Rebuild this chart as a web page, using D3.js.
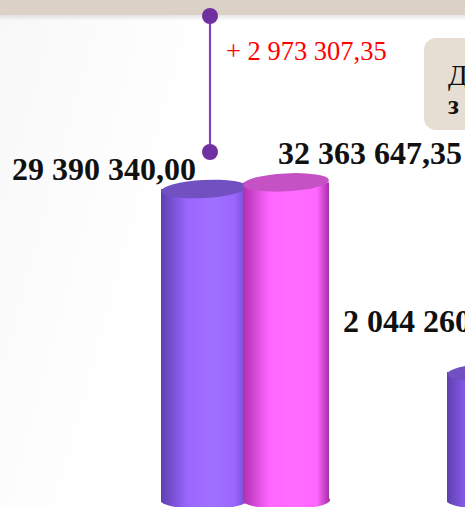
<!DOCTYPE html>
<html>
<head>
<meta charset="utf-8">
<script src="https://cdn.jsdelivr.net/npm/d3@7"></script>
<style>
  html, body { margin: 0; padding: 0; overflow: hidden; background: #fff; }
  svg { display: block; }
</style>
</head>
<body>
<svg id="chart" width="465" height="507"></svg>
<script>
// values
const groups = ["г1", "г2"];
const series = ["s1", "s2"];
const values = [
  { group: "г1", series: "s1", value: 29390340.00 },
  { group: "г1", series: "s2", value: 32363647.35 },
  { group: "г2", series: "s1", value: 2044260.00 }
];
const boxLines = ["Д", "з"];

const W = 465, H = 507;
const base = 502;

const ru = d3.formatLocale({ decimal: ",", thousands: "\u00a0", grouping: [3], currency: ["", ""] });
const fmt = ru.format(",.2f");

const svg = d3.select("#chart");
const defs = svg.append("defs");

// background
let bg = defs.append("linearGradient").attr("id", "bg").attr("x1", 0).attr("x2", 1).attr("y1", 0).attr("y2", 0.3);
bg.append("stop").attr("offset", 0).attr("stop-color", "#f8f8f8");
bg.append("stop").attr("offset", 0.45).attr("stop-color", "#ffffff");
bg.append("stop").attr("offset", 1).attr("stop-color", "#ffffff");
svg.append("rect").attr("width", W).attr("height", H).attr("fill", "url(#bg)");

let sh = defs.append("linearGradient").attr("id", "bandShadow").attr("x1", 0).attr("x2", 0).attr("y1", 0).attr("y2", 1);
sh.append("stop").attr("offset", 0).attr("stop-color", "#000").attr("stop-opacity", 0.10);
sh.append("stop").attr("offset", 1).attr("stop-color", "#000").attr("stop-opacity", 0);
svg.append("rect").attr("x", 0).attr("y", 15).attr("width", W).attr("height", 6).attr("fill", "url(#bandShadow)");
svg.append("rect").attr("x", 0).attr("y", 0).attr("width", W).attr("height", 15).attr("fill", "#dcd1c6");

// scales
let x0 = d3.scaleBand().domain(groups).range([161, 733]).paddingInner(0).paddingOuter(0);
let x1 = d3.scaleBand().domain(series).range([0, 170]).padding(0);
let y = d3.scaleLog().domain([307800, 29390340]).range([base, 189]);

const colors = {
  s1: { dark: "#5e40b0", mid: "#9a66ff", light: "#a070ff", right: "#6e48c8", top: "#7150c2" },
  s2: { dark: "#b030b0", mid: "#ff66ff", light: "#ff6cff", right: "#a02aa0", top: "#c452c4" }
};

series.forEach(s => {
  let g = defs.append("linearGradient").attr("id", "body-" + s).attr("x1", 0).attr("x2", 1).attr("y1", 0).attr("y2", 0);
  g.append("stop").attr("offset", 0).attr("stop-color", colors[s].dark);
  g.append("stop").attr("offset", 0.3).attr("stop-color", colors[s].mid);
  g.append("stop").attr("offset", 0.6).attr("stop-color", colors[s].light);
  g.append("stop").attr("offset", 0.85).attr("stop-color", colors[s].mid);
  g.append("stop").attr("offset", 1).attr("stop-color", colors[s].right);
});

const ry = 9;
const bw = 86;

let bars = svg.append("g").selectAll("g.cyl")
  .data(values)
  .enter()
  .append("g")
  .attr("class", "cyl");

bars.each(function(d) {
  let g = d3.select(this);
  let xl = x0(d.group) + x1(d.series) - (d.series === "s2" ? 3 : 0);
  let cx = xl + bw / 2;
  let top = y(d.value);
  g.append("path")
    .attr("d", `M${xl},${top} L${xl},${base} A${bw / 2},${ry} 0 0 0 ${xl + bw},${base - 4} L${xl + bw},${top} Z`)
    .attr("fill", `url(#body-${d.series})`);
  g.append("ellipse")
    .attr("cx", cx).attr("cy", top)
    .attr("rx", bw / 2).attr("ry", ry)
    .attr("transform", `rotate(-3 ${cx} ${top})`)
    .attr("fill", colors[d.series].top);
});

// value labels
const labelPos = [
  { anchor: "end", dx: 35, dy: -9 },
  { anchor: "start", dx: 32, dy: -18 },
  { anchor: "start", dx: -104, dy: -40 }
];
svg.append("g").selectAll("text")
  .data(values)
  .enter()
  .append("text")
  .attr("x", (d, i) => x0(d.group) + x1(d.series) + labelPos[i].dx)
  .attr("y", (d, i) => y(d.value) + labelPos[i].dy)
  .attr("text-anchor", (d, i) => labelPos[i].anchor)
  .attr("font-family", "'Liberation Serif', 'Times New Roman', serif")
  .attr("font-weight", "bold")
  .attr("font-size", 32)
  .attr("fill", "#111")
  .text(d => fmt(d.value));

// difference connector
const diff = values[1].value - values[0].value;
const lx = 210;
svg.append("line").attr("x1", lx).attr("x2", lx).attr("y1", 16).attr("y2", 152)
  .attr("stroke", "#7d45bb").attr("stroke-width", 2.2);
svg.selectAll("circle.dot").data([16, 152]).enter().append("circle")
  .attr("class", "dot")
  .attr("cx", lx).attr("cy", d => d).attr("r", 8)
  .attr("fill", "#7030a0");
svg.append("text")
  .attr("x", 226).attr("y", 60)
  .attr("font-family", "'Liberation Serif', 'Times New Roman', serif")
  .attr("font-size", 26.5)
  .attr("fill", "#ff0000")
  .text("+ " + fmt(diff));

// legend-like box on the right
svg.append("rect")
  .attr("x", 424).attr("y", 38).attr("width", 80).attr("height", 92).attr("rx", 12)
  .attr("fill", "#e6ddd3");
svg.append("text").attr("x", 448).attr("y", 85)
  .attr("font-family", "'Liberation Serif', 'Times New Roman', serif")
  .attr("font-size", 29).attr("fill", "#111").text(boxLines[0]);
svg.append("text").attr("x", 448).attr("y", 114)
  .attr("font-family", "'Liberation Serif', 'Times New Roman', serif")
  .attr("font-weight", "bold")
  .attr("font-size", 27).attr("fill", "#111").text(boxLines[1]);
</script>
</body>
</html>
